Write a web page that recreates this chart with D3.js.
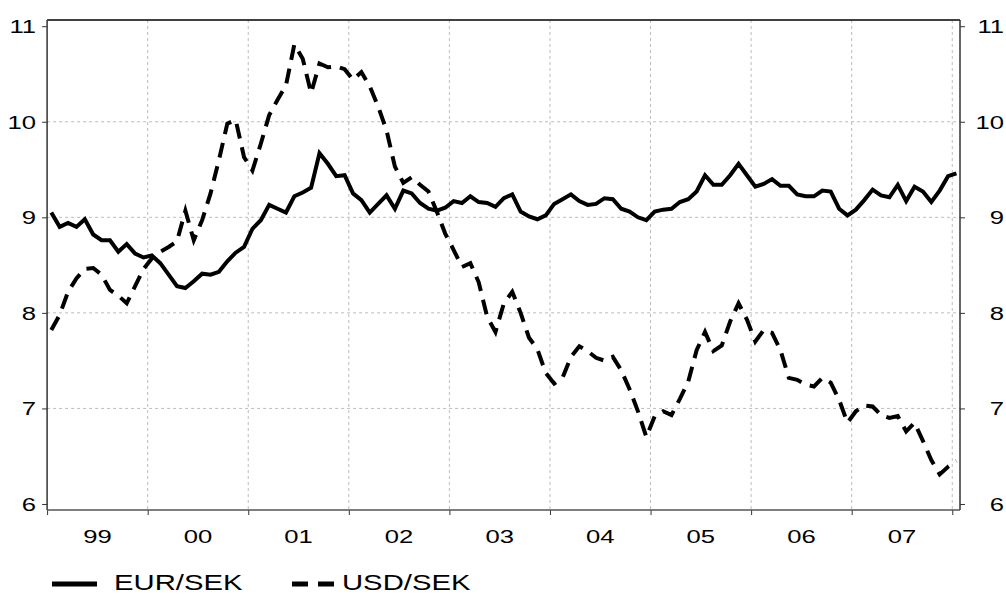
<!DOCTYPE html>
<html>
<head>
<meta charset="utf-8">
<script src="https://cdn.jsdelivr.net/npm/d3@7"></script>
<style>
  html, body { margin: 0; padding: 0; background: #ffffff; }
  svg { display: block; }
</style>
</head>
<body>
<svg id="chart" width="1006" height="595"></svg>
<script>
// ---- data (monthly, Jan 1999 .. Jan 2008) ----
const startYear = 1999;
const eurSek = [
  9.05, 8.90, 8.94, 8.90, 8.98, 8.82, 8.76, 8.76, 8.64, 8.72, 8.62, 8.58,
  8.60, 8.52, 8.40, 8.28, 8.26, 8.33, 8.41, 8.40, 8.43, 8.54, 8.63, 8.69,
  8.88, 8.97, 9.13, 9.09, 9.05, 9.22, 9.26, 9.31, 9.67, 9.56, 9.43, 9.44,
  9.25, 9.18, 9.05, 9.14, 9.23, 9.09, 9.28, 9.25, 9.15, 9.09, 9.07, 9.10,
  9.17, 9.15, 9.22, 9.16, 9.15, 9.11, 9.20, 9.24, 9.06, 9.01, 8.98, 9.02,
  9.14, 9.19, 9.24, 9.17, 9.13, 9.14, 9.20, 9.19, 9.09, 9.06, 9.00, 8.97,
  9.06, 9.08, 9.09, 9.16, 9.19, 9.27, 9.44, 9.34, 9.34, 9.44, 9.56, 9.44,
  9.32, 9.35, 9.40, 9.33, 9.33, 9.24, 9.22, 9.22, 9.28, 9.27, 9.09, 9.02,
  9.08, 9.18, 9.29, 9.23, 9.21, 9.34, 9.17, 9.32, 9.27, 9.16, 9.28, 9.43,
  9.46
];
const usdSek = [
  7.82, 7.98, 8.22, 8.36, 8.46, 8.47, 8.40, 8.24, 8.18, 8.10, 8.28, 8.46,
  8.57, 8.64, 8.69, 8.75, 9.07, 8.76, 8.97, 9.25, 9.60, 9.98, 10.02, 9.63,
  9.49, 9.77, 10.07, 10.23, 10.38, 10.81, 10.66, 10.30, 10.61, 10.57, 10.58, 10.55,
  10.44, 10.52, 10.37, 10.16, 9.91, 9.53, 9.36, 9.42, 9.34, 9.27, 9.06, 8.83,
  8.66, 8.48, 8.52, 8.32, 7.96, 7.80, 8.10, 8.22, 8.00, 7.74, 7.62, 7.37,
  7.26, 7.32, 7.54, 7.65, 7.60, 7.53, 7.50, 7.54, 7.40, 7.20, 6.97, 6.70,
  6.92, 6.97, 6.93, 7.10, 7.28, 7.61, 7.80, 7.60, 7.66, 7.91, 8.10, 7.93,
  7.70, 7.82, 7.79, 7.61, 7.32, 7.30, 7.25, 7.23, 7.32, 7.27, 7.09, 6.85,
  6.97, 7.03, 7.02, 6.93, 6.90, 6.92, 6.76, 6.85, 6.66, 6.46, 6.31, 6.39,
  6.45
];
const yearLabels = ["99", "00", "01", "02", "03", "04", "05", "06", "07"];
const yTicks = [6, 7, 8, 9, 10, 11];
const seriesNames = ["EUR/SEK", "USD/SEK"];

// ---- layout ----
const L = 47.1, R = 960, T = 20, B = 510;
const svg = d3.select("#chart");

const x = d3.scaleLinear().domain([1999, 2008.077]).range([L, R]);
const y = d3.scaleLinear().domain([5.937, 11.065]).range([B, T]);

const FONT = "'Liberation Sans', Arial, sans-serif";
function stretchedText(g, tx, ty, str, size, sx, anchor) {
  g.append("text")
    .attr("transform", `translate(${tx},${ty}) scale(${sx},1)`)
    .attr("text-anchor", anchor)
    .attr("font-family", FONT)
    .attr("font-size", size)
    .attr("fill", "#000")
    .text(str);
}

// gridlines
const grid = svg.append("g");
const yearBounds = d3.range(2000, 2009);
grid.selectAll("line.v").data(yearBounds).enter().append("line")
  .attr("x1", d => x(d)).attr("x2", d => x(d))
  .attr("y1", T).attr("y2", B)
  .attr("stroke", "#bcbcbc").attr("stroke-width", 1).attr("stroke-dasharray", "3,3");
grid.selectAll("line.h").data([7, 8, 9, 10]).enter().append("line")
  .attr("x1", L).attr("x2", R)
  .attr("y1", d => y(d)).attr("y2", d => y(d))
  .attr("stroke", "#bcbcbc").attr("stroke-width", 1).attr("stroke-dasharray", "3,3");

// axes (tick marks only, labels drawn separately)
svg.append("g").attr("transform", `translate(${L},0)`)
  .call(d3.axisLeft(y).tickValues(yTicks).tickSize(5).tickFormat(""))
  .call(g => g.select(".domain").remove())
  .call(g => g.selectAll("line").attr("stroke", "#333"));
svg.append("g").attr("transform", `translate(${R},0)`)
  .call(d3.axisRight(y).tickValues(yTicks).tickSize(5).tickFormat(""))
  .call(g => g.select(".domain").remove())
  .call(g => g.selectAll("line").attr("stroke", "#333"));
svg.append("g").attr("transform", `translate(0,${B})`)
  .call(d3.axisBottom(x).tickValues(d3.range(1999, 2009)).tickSize(5).tickFormat(""))
  .call(g => g.select(".domain").remove())
  .call(g => g.selectAll("line").attr("stroke", "#333"));

// frame
svg.append("line").attr("x1", L).attr("x2", R).attr("y1", T).attr("y2", T)
  .attr("stroke", "#000").attr("stroke-width", 1.5);
svg.append("line").attr("x1", L).attr("x2", L).attr("y1", T).attr("y2", B)
  .attr("stroke", "#333").attr("stroke-width", 1.5);
svg.append("line").attr("x1", R).attr("x2", R).attr("y1", T).attr("y2", B)
  .attr("stroke", "#333").attr("stroke-width", 1.5);
svg.append("line").attr("x1", L).attr("x2", R).attr("y1", B).attr("y2", B)
  .attr("stroke", "#555").attr("stroke-width", 1.5);

// tick labels
const labels = svg.append("g");
yTicks.forEach(v => {
  stretchedText(labels, 36, y(v) + 7, String(v), 19, 1.35, "end");
  stretchedText(labels, 1004, y(v) + 7, String(v), 19, 1.35, "end");
});
yearLabels.forEach((lab, i) => {
  stretchedText(labels, x(startYear + i + 0.5), 543, lab, 19, 1.35, "middle");
});

// lines
const monthX = i => x(startYear + (i + 0.5) / 12);
const line = d3.line().x((d, i) => monthX(i)).y(d => y(d));

svg.append("path").datum(usdSek)
  .attr("d", line)
  .attr("fill", "none").attr("stroke", "#000").attr("stroke-width", 4)
  .attr("stroke-dasharray", "15,9");
svg.append("path").datum(eurSek)
  .attr("d", line)
  .attr("fill", "none").attr("stroke", "#000").attr("stroke-width", 4);

// legend
const leg = svg.append("g");
leg.append("line").attr("x1", 52).attr("x2", 97).attr("y1", 584).attr("y2", 584)
  .attr("stroke", "#000").attr("stroke-width", 5);
stretchedText(leg, 114, 590, seriesNames[0], 22, 1.33, "start");
leg.append("line").attr("x1", 292).attr("x2", 334).attr("y1", 584).attr("y2", 584)
  .attr("stroke", "#000").attr("stroke-width", 5).attr("stroke-dasharray", "16,10");
stretchedText(leg, 342, 590, seriesNames[1], 22, 1.33, "start");
</script>
</body>
</html>
